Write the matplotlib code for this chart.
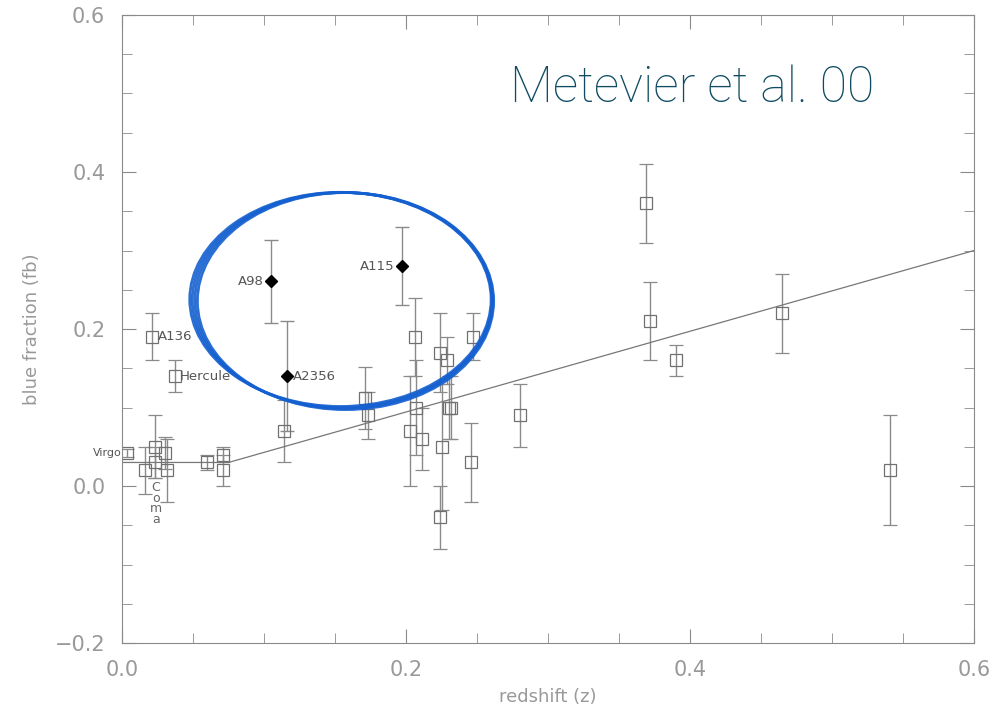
import numpy as np
import matplotlib.pyplot as plt
from matplotlib.patches import Ellipse
from matplotlib.ticker import MultipleLocator

# cúmulos (cuadrados abiertos)
z_sq = [0.0035, 0.021, 0.037, 0.016, 0.023, 0.023, 0.030, 0.032, 0.060, 0.071,
        0.071, 0.114, 0.171, 0.173, 0.206, 0.203, 0.207, 0.211, 0.224, 0.229,
        0.225, 0.224, 0.230, 0.232, 0.246, 0.247, 0.280, 0.369, 0.372, 0.390,
        0.465, 0.541]
fb_sq = [0.042, 0.19, 0.14, 0.020, 0.05, 0.03, 0.042, 0.020, 0.030, 0.040,
         0.020, 0.070, 0.112, 0.090, 0.190, 0.070, 0.100, 0.060, 0.170, 0.160,
         0.050, -0.040, 0.100, 0.100, 0.030, 0.190, 0.090, 0.360, 0.210, 0.160,
         0.220, 0.020]
err_sq = [0.005, 0.03, 0.02, 0.03, 0.04, 0.02, 0.02, 0.04, 0.01, 0.01,
          0.02, 0.04, 0.04, 0.03, 0.05, 0.07, 0.06, 0.04, 0.05, 0.03,
          0.08, 0.04, 0.04, 0.04, 0.05, 0.03, 0.04, 0.05, 0.05, 0.02,
          0.05, 0.07]

# cúmulos de Metevier (diamantes)
nombres_d = ['A98', 'A115', 'A2356']
z_d = [0.105, 0.197, 0.116]
fb_d = [0.261, 0.280, 0.140]
err_d = [0.053, 0.05, 0.07]

# ajuste
z_fit = [0.0, 0.075, 0.6]
fb_fit = [0.03, 0.03, 0.30]

gris = '#8a8a8a'

fig = plt.figure(figsize=(9.96, 7.14), dpi=100)
ax = fig.add_axes([0.1225, 0.0994, 0.8555, 0.8796])

ax.errorbar(z_sq, fb_sq, yerr=err_sq, fmt='s', mfc='none', mec='#707070',
            ms=9, mew=0.9, ecolor=gris, elinewidth=1, capsize=5, capthick=1)
ax.errorbar(z_d, fb_d, yerr=err_d, fmt='D', color='black', ms=6,
            ecolor=gris, elinewidth=1, capsize=5, capthick=1)
ax.plot(z_fit, fb_fit, color='#777777', lw=0.9)

# etiquetas
ax.text(z_d[0] - 0.005, fb_d[0], 'A98', ha='right', va='center', fontsize=9.5, color='#555555')
ax.text(z_d[1] - 0.005, fb_d[1], 'A115', ha='right', va='center', fontsize=9.5, color='#555555')
ax.text(z_d[2] + 0.004, fb_d[2], 'A2356', ha='left', va='center', fontsize=9.5, color='#555555')
ax.text(z_sq[1] + 0.004, fb_sq[1], 'A136', ha='left', va='center', fontsize=9.5, color='#555555')
ax.text(z_sq[2] + 0.004, fb_sq[2], 'Hercule', ha='left', va='center', fontsize=9.5, color='#555555')
ax.text(z_sq[0] - 0.004, fb_sq[0], 'Virgo', ha='right', va='center', fontsize=8, color='#555555')
ax.text(0.024, 0.006, 'C\no\nm\na', ha='center', va='top', fontsize=9, color='#666666',
        linespacing=0.75)

# elipse azul (trazo a mano)
for d in [0.0, 0.0012, -0.0012, 0.0024]:
    ax.add_patch(Ellipse((0.155 + d, 0.237 - d * 0.6), 0.211 - d, 0.274 + d,
                         fill=False, ec='#1560d0', lw=2.0, alpha=0.9, zorder=5))

ax.set_xlim(0, 0.6)
ax.set_ylim(-0.2, 0.6)
ax.xaxis.set_major_locator(MultipleLocator(0.2))
ax.xaxis.set_minor_locator(MultipleLocator(0.05))
ax.yaxis.set_major_locator(MultipleLocator(0.2))
ax.yaxis.set_minor_locator(MultipleLocator(0.05))
ax.tick_params(which='both', direction='in', top=True, right=True, color=gris,
               labelcolor='#999999', labelsize=15, pad=12)
ax.tick_params(which='major', length=10)
ax.tick_params(which='minor', length=7)
for s in ax.spines.values():
    s.set_color(gris)
ax.set_xlabel('redshift (z)', fontsize=13, color='#999999', labelpad=6)
ax.set_ylabel('blue fraction (fb)', fontsize=13, color='#999999', labelpad=10)

fig.text(0.695, 0.877, 'Metevier et al. 00', fontsize=36, color='#0f4c63',
         ha='center', va='center', family='Roboto', fontweight='light')

fig.savefig('out.png', dpi=100)
